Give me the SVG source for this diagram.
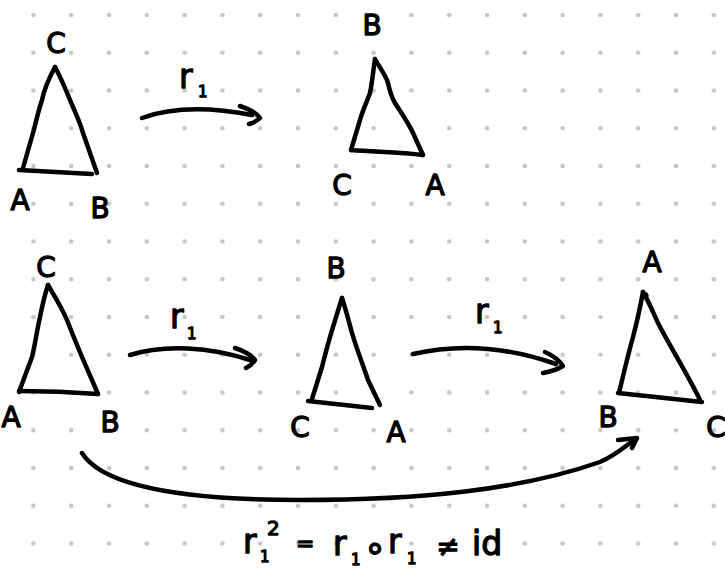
<svg xmlns="http://www.w3.org/2000/svg" width="725" height="569" viewBox="0 0 725 569">
<defs>
<pattern id="dots" patternUnits="userSpaceOnUse" x="14.5" y="-3.875" width="37.8" height="37.75">
<circle cx="18.9" cy="18.875" r="2.3" fill="#c6c6c6"/>
</pattern>
</defs>
<style>
.s{fill:none;stroke:#000;stroke-width:4.5;stroke-linecap:round;stroke-linejoin:round}
.c{stroke-width:2.5}
.L,.r,.sub{font-family:"DejaVu Sans",sans-serif;fill:#000;stroke:#000;stroke-width:1.3;stroke-linejoin:round}
.L{font-size:28px;text-anchor:middle}
.r{font-size:33px}
.sub{font-size:15px}
</style>
<rect width="725" height="569" fill="#fff"/>
<rect width="725" height="569" fill="url(#dots)"/>

<g id="tri1">
<path class="s" d="M55,67 C48,80 44,90 42,100 C38,112 36,122 33,133 L23,168"/>
<path class="s" d="M55,67 C62,80 66,90 70,100 C75,112 80,122 83,133 L97,173"/>
<path class="s" d="M19,170 L92,174"/>
<text class="L" x="56" y="53">C</text>
<text class="L" x="20" y="210">A</text>
<text class="L" x="100" y="218">B</text>
</g>

<g id="tri2">
<path class="s" d="M375,59 C373,72 372,84 370,93 C366,104 362,112 360,120 L351,150"/>
<path class="s" d="M375,59 C380,68 386,76 388,83 C390,92 392,98 395,103 C402,114 408,122 413,133 L423,155"/>
<path class="s" d="M351,150 C375,152 400,152 423,155"/>
<text class="L" x="372" y="35">B</text>
<text class="L" x="342" y="195">C</text>
<text class="L" x="435" y="195">A</text>
</g>

<g id="tri3">
<path class="s" d="M48,285 C44,297 42,307 40,317 C37,330 35,345 32,357 L19,392"/>
<path class="s" d="M48,285 C55,297 62,308 67,320 C72,333 77,345 82,357 L98,394"/>
<path class="s" d="M19,391 C45,391 72,392 98,394"/>
<text class="L" x="46" y="277">C</text>
<text class="L" x="11" y="427">A</text>
<text class="L" x="110" y="432">B</text>
</g>

<g id="tri4">
<path class="s" d="M342,298 C338,310 336,318 333,327 C328,343 325,355 322,367 L312,399"/>
<path class="s" d="M342,298 C346,310 349,322 352,333 C357,350 363,365 368,380 L380,405"/>
<path class="s" d="M308,401 L372,408"/>
<text class="L" x="336" y="278">B</text>
<text class="L" x="300" y="437">C</text>
<text class="L" x="396" y="442">A</text>
</g>

<g id="tri5">
<path class="s" d="M643,292 C640,308 637,322 633,337 C628,355 624,372 619,393"/>
<path class="s" d="M643,292 C648,300 653,312 658,323 C672,350 688,375 700,400"/>
<path class="s" d="M618,393 L702,402"/>
<path class="s c" d="M644,293 C647,293 648,295 647,297"/>
<text class="L" x="652" y="272">A</text>
<text class="L" x="608" y="427">B</text>
<text class="L" x="716" y="437">C</text>
</g>

<g id="connectors">
<path class="s" d="M142,118 C175,106 215,108 252,115"/>
<path class="s" d="M240,106 Q255,111 260,118 Q256,122 249,124"/>
<path class="s" d="M130,355 C165,344 210,347 250,360"/>
<path class="s" d="M235,348 Q250,353 255,360 Q252,365 246,368"/>
<path class="s" d="M413,354 C460,343 510,348 556,364"/>
<path class="s" d="M545,352 Q558,358 563,366 Q555,371 543,373"/>
<path class="s" d="M82,453 C105,490 200,500 300,500 C420,500 520,490 600,462 C615,456 625,446 636,439"/>
<path class="s" d="M618,440 L637,438 L632,448"/>
</g>

<g id="labels">
<text class="r" x="179" y="88">r</text><text class="sub" x="198" y="97">1</text>
<text class="r" x="170" y="328">r</text><text class="sub" x="187" y="339">1</text>
<text class="r" x="475" y="323">r</text><text class="sub" x="493" y="333">1</text>
</g>

<g id="equation">
<text class="r" x="243" y="553">r</text>
<text class="sub" x="260" y="562">1</text>
<text class="r" x="267" y="535" style="font-size:20px">2</text>
<text class="r" x="296" y="551" style="font-size:22px">=</text>
<text class="r" x="333" y="555">r</text>
<text class="sub" x="351" y="565">1</text>
<text class="r" x="375" y="560" style="font-size:36px;text-anchor:middle">∘</text>
<text class="r" x="388" y="553">r</text>
<text class="sub" x="407" y="564">1</text>
<text class="r" x="448" y="556" style="font-size:28px;text-anchor:middle">≠</text>
<text class="r" x="472" y="555" style="font-size:33px">id</text>
</g>
</svg>
